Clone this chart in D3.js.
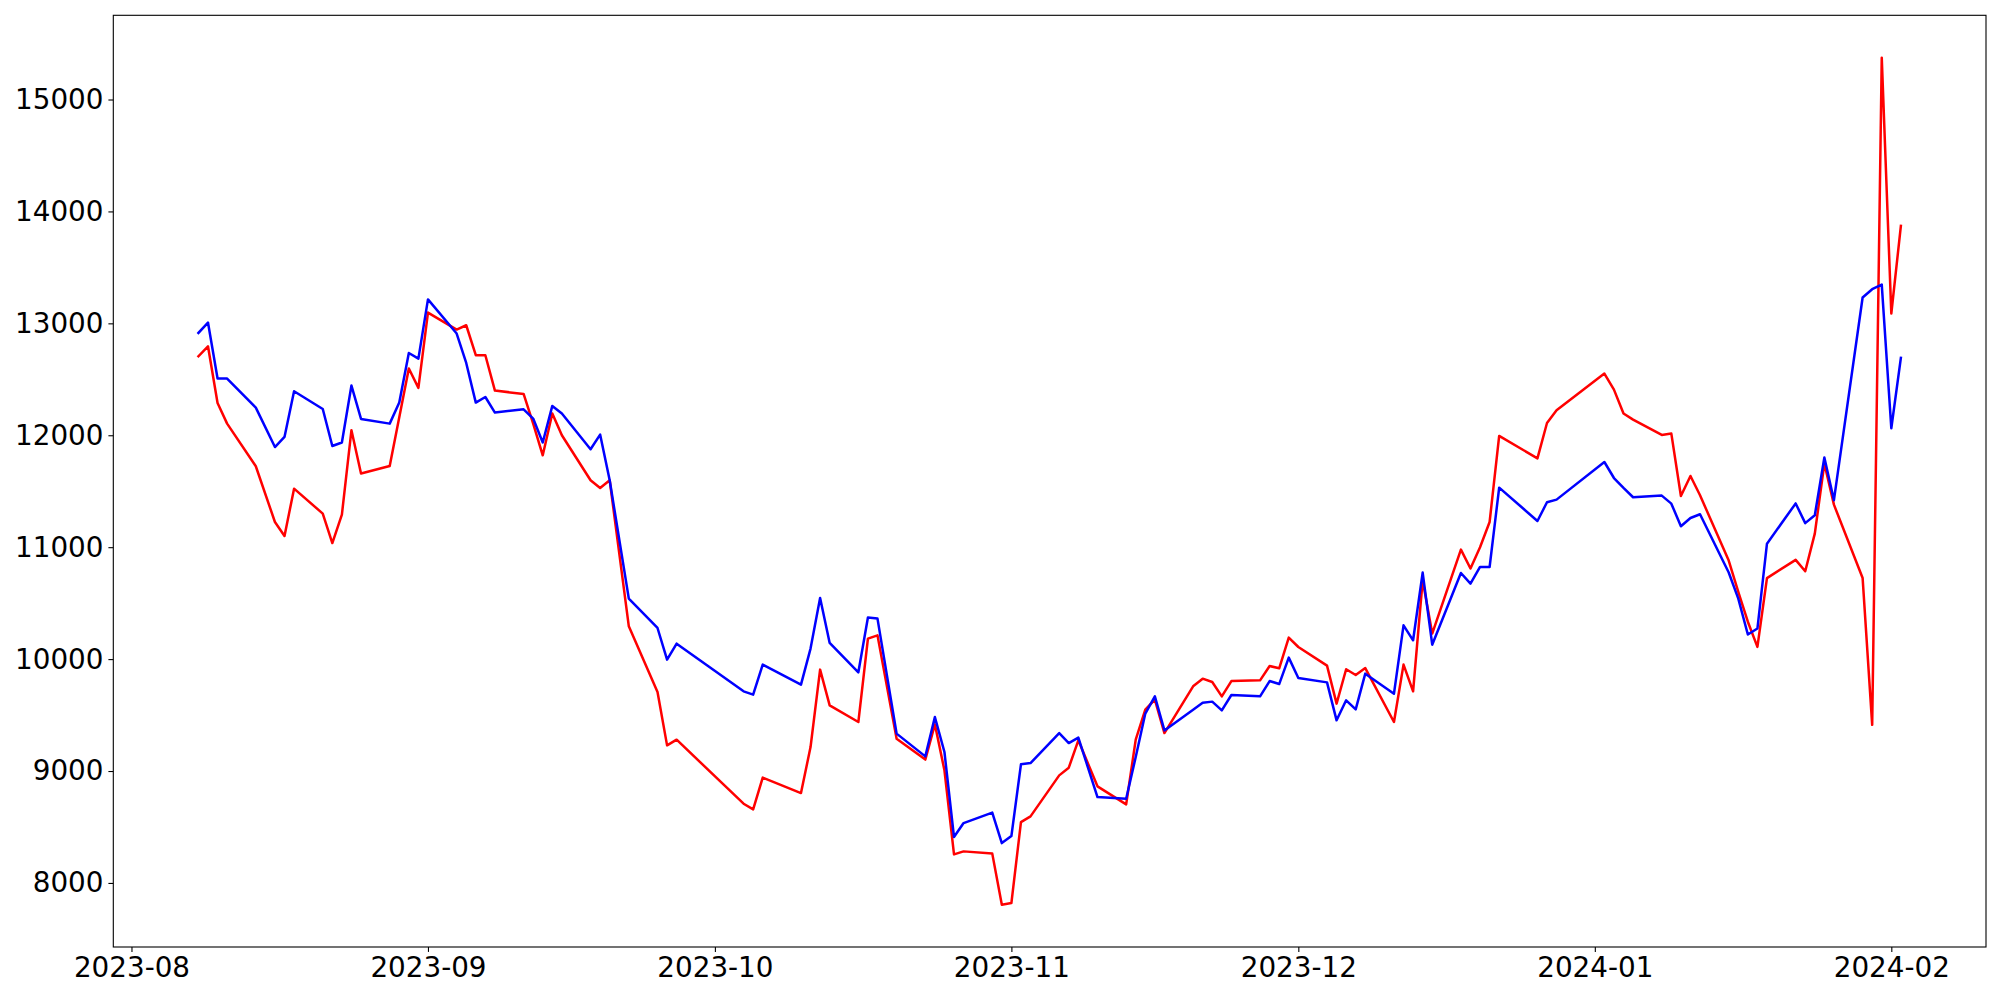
<!DOCTYPE html>
<html>
<head>
<meta charset="utf-8">
<script src="https://cdn.jsdelivr.net/npm/d3@7"></script>
<style>
  html, body { margin: 0; padding: 0; background: #fff; }
  svg { display: block; }
  text { font-family: "DejaVu Sans", sans-serif; }
</style>
</head>
<body>
<svg id="chart" width="2000" height="1000"></svg>
<script>
const dates = [
  "2023-08-08","2023-08-09","2023-08-10","2023-08-11","2023-08-14","2023-08-16","2023-08-17","2023-08-18",
  "2023-08-21","2023-08-22","2023-08-23","2023-08-24","2023-08-25","2023-08-28","2023-08-29","2023-08-30","2023-08-31",
  "2023-09-01","2023-09-04","2023-09-05","2023-09-06","2023-09-07","2023-09-08","2023-09-11","2023-09-12","2023-09-13",
  "2023-09-14","2023-09-15","2023-09-18","2023-09-19","2023-09-20","2023-09-22","2023-09-25","2023-09-26","2023-09-27",
  "2023-10-04","2023-10-05","2023-10-06","2023-10-10","2023-10-11","2023-10-12","2023-10-13","2023-10-16","2023-10-17",
  "2023-10-18","2023-10-20","2023-10-23","2023-10-24","2023-10-25","2023-10-26","2023-10-27","2023-10-30","2023-10-31",
  "2023-11-01","2023-11-02","2023-11-03","2023-11-06","2023-11-07","2023-11-08","2023-11-10","2023-11-13","2023-11-14",
  "2023-11-15","2023-11-16","2023-11-17","2023-11-20","2023-11-21","2023-11-22","2023-11-23","2023-11-24","2023-11-27",
  "2023-11-28","2023-11-29","2023-11-30","2023-12-01","2023-12-04","2023-12-05","2023-12-06","2023-12-07","2023-12-08",
  "2023-12-11","2023-12-12","2023-12-13","2023-12-14","2023-12-15","2023-12-18","2023-12-19","2023-12-20","2023-12-21",
  "2023-12-22","2023-12-26","2023-12-27","2023-12-28","2024-01-02","2024-01-03","2024-01-04","2024-01-05","2024-01-08",
  "2024-01-09","2024-01-10","2024-01-11","2024-01-12","2024-01-15","2024-01-16","2024-01-17","2024-01-18","2024-01-19",
  "2024-01-22","2024-01-23","2024-01-24","2024-01-25","2024-01-26","2024-01-29","2024-01-30","2024-01-31","2024-02-01",
  "2024-02-02"
];

const blueValues = [
  12914,13007,12507,12507,12247,11895,11985,12393,
  12235,11904,11935,12444,12146,12104,12292,12735,12685,
  13214,12909,12646,12292,12342,12203,12232,12149,11935,
  12262,12194,11875,12006,11598,10540,10278,9995,10138,
  9712,9682,9951,9772,10094,10546,10144,9882,10371,
  10362,9334,9131,9482,9170,8410,8535,8628,8356,
  8419,9060,9071,9339,9250,9298,8767,8753,9125,
  9513,9667,9363,9548,9611,9620,9542,9679,9667,
  9804,9777,10013,9831,9792,9453,9632,9551,9870,
  9691,10302,10168,10773,10129,10769,10674,10823,10823,
  11532,11234,11401,11425,11761,11618,11529,11446,11461,
  11389,11187,11261,11294,10774,10540,10220,10273,11031,
  11391,11215,11285,11801,11420,13231,13305,13346,12063,
  12691
];

const redValues = [
  12706,12795,12289,12104,11723,11225,11100,11523,
  11300,11037,11291,12045,11658,11726,12160,12596,12423,
  13096,12944,12983,12715,12715,12399,12369,12104,11821,
  12194,12000,11598,11529,11598,10293,9706,9229,9280,
  8708,8657,8941,8803,9214,9906,9587,9438,10183,
  10212,9289,9102,9417,9006,8255,8282,8262,7806,
  7820,8544,8595,8961,9030,9274,8863,8702,9280,
  9548,9638,9339,9757,9825,9795,9667,9804,9810,
  9938,9918,10192,10108,9942,9602,9909,9858,9920,
  9438,9951,9712,10704,10228,10978,10809,11000,11225,
  11994,11794,12110,12223,12551,12408,12194,12140,12003,
  12015,11457,11636,11464,10880,10600,10334,10109,10724,
  10887,10785,11121,11748,11380,10724,9413,15374,13088,
  13870
];

const yTicks = [8000, 9000, 10000, 11000, 12000, 13000, 14000, 15000];
const xTickLabels = ["2023-08","2023-09","2023-10","2023-11","2023-12","2024-01","2024-02"];

(function () {
  const parse = d3.timeParse("%Y-%m-%d");
  const parseMonth = d3.timeParse("%Y-%m");
  const fmtMonth = d3.timeFormat("%Y-%m");

  const W = 2000, H = 1000;
  const mLeft = 113.3, mRight = 1986, mTop = 15.3, mBottom = 947;

  const svg = d3.select("#chart");
  svg.append("rect").attr("width", W).attr("height", H).attr("fill", "#fff");

  const pts = dates.map((d, i) => ({ date: parse(d), blue: blueValues[i], red: redValues[i] }));

  const xExt = d3.extent(pts, d => d.date);
  const xSpan = xExt[1] - xExt[0];
  const x = d3.scaleTime()
    .domain([new Date(+xExt[0] - xSpan * 0.05), new Date(+xExt[1] + xSpan * 0.05)])
    .range([mLeft, mRight]);

  const allV = blueValues.concat(redValues);
  const yMin = d3.min(allV), yMax = d3.max(allV);
  const ySpan = yMax - yMin;
  const y = d3.scaleLinear()
    .domain([yMin - ySpan * 0.05, yMax + ySpan * 0.05])
    .range([mBottom, mTop]);

  const tickLen = 4.9, tickPad = 4.9, fontSize = 27.8;

  const gx = svg.append("g").attr("transform", `translate(0,${mBottom})`)
    .call(d3.axisBottom(x)
      .tickValues(xTickLabels.map(parseMonth))
      .tickFormat(fmtMonth)
      .tickSize(tickLen)
      .tickPadding(tickPad));
  const gy = svg.append("g").attr("transform", `translate(${mLeft},0)`)
    .call(d3.axisLeft(y)
      .tickValues(yTicks)
      .tickFormat(d3.format("d"))
      .tickSize(tickLen)
      .tickPadding(tickPad));

  [gx, gy].forEach(g => {
    g.select(".domain").remove();
    g.selectAll(".tick line").attr("stroke", "#000").attr("stroke-width", 1.1);
    g.selectAll(".tick text")
      .attr("fill", "#000")
      .style("font-family", "'DejaVu Sans', sans-serif")
      .style("font-size", fontSize + "px");
  });

  const line = key => d3.line().x(d => x(d.date)).y(d => y(d[key]));

  const plot = svg.append("g");
  plot.append("path").datum(pts)
    .attr("fill", "none").attr("stroke", "#ff0000").attr("stroke-width", 2.5)
    .attr("stroke-linejoin", "round").attr("stroke-linecap", "square")
    .attr("d", line("red"));
  plot.append("path").datum(pts)
    .attr("fill", "none").attr("stroke", "#0000ff").attr("stroke-width", 2.5)
    .attr("stroke-linejoin", "round").attr("stroke-linecap", "square")
    .attr("d", line("blue"));

  svg.append("rect")
    .attr("x", mLeft).attr("y", mTop)
    .attr("width", mRight - mLeft).attr("height", mBottom - mTop)
    .attr("fill", "none").attr("stroke", "#000").attr("stroke-width", 1.1);
})();
</script>
</body>
</html>
